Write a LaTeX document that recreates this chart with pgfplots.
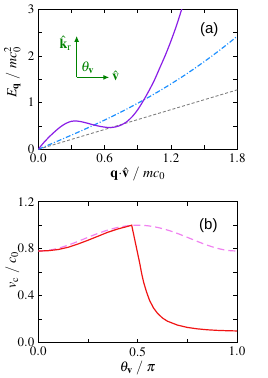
\documentclass[border=0pt]{standalone}
\usepackage{mathptmx}
\usepackage{fontspec}
\setmainfont{Liberation Serif}
\newfontfamily\arial{Liberation Sans}
\usepackage{pgfplots}
\pgfplotsset{compat=1.18}
\usetikzlibrary{arrows.meta}
\definecolor{cpurple}{RGB}{138,30,230}
\definecolor{cblue}{RGB}{30,144,255}
\definecolor{cgray}{RGB}{128,128,128}
\definecolor{cred}{RGB}{240,20,20}
\definecolor{cpink}{RGB}{240,130,240}
\definecolor{cgreen}{RGB}{0,130,0}
\begin{document}
\begin{tikzpicture}[x=1pt,y=1pt]
\useasboundingbox (0,0) rectangle (268,378);
\pgfplotsset{
  every axis/.append style={
    scale only axis,
    axis line style={line width=0.8pt},
    tick style={line width=0.6pt,black},
    major tick length=4pt, minor tick length=4pt,
    tick align=inside,
    xtick pos=both, ytick pos=both,
    minor tick num=1,
    tick label style={font=\fontsize{13}{14}\selectfont},
    label style={font=\fontsize{14}{15}\selectfont},
    xticklabel style={yshift=-1pt},
    yticklabel style={xshift=-0.5pt},
  }
}
\begin{axis}[
  at={(38.3pt,228.7pt)}, anchor=south west,
  width=199pt, height=140.1pt,
  xmin=0, xmax=1.8, ymin=0, ymax=3,
  xtick={0,0.6,1.2,1.8}, ytick={0,1,2,3},
  xticklabel style={/pgf/number format/.cd,fixed,fixed zerofill,precision=1},
  yticklabel style={/pgf/number format/.cd,fixed,precision=0},
  xlabel={$\mathbf{q}{\cdot}\hat{\mathbf{v}}\ /\ mc_0$},
  ylabel={$E_{\mathbf{q}}\ /\ mc_0^2$},
  xlabel style={at={(axis description cs:0.5,-0.175)},anchor=center},
  ylabel style={at={(axis description cs:-0.13,0.55)},anchor=center},
  clip=true,
]
\addplot[cgray, line width=0.9pt, dash pattern=on 3pt off 2pt] coordinates {(0,0) (1.8,1.273)};
\addplot[cblue, line width=1.2pt, dash pattern=on 5pt off 2pt on 1pt off 2pt] coordinates {
(0,0) (0.1,0.1001) (0.2,0.2010) (0.3,0.3034) (0.4,0.4079) (0.5,0.5154) (0.6,0.6264)
(0.7,0.7416) (0.8,0.8616) (0.9,0.9870) (1.0,1.1180) (1.1,1.2554) (1.2,1.3994)
(1.3,1.5505) (1.4,1.7089) (1.5,1.8750) (1.6,2.0490) (1.7,2.2311) (1.8,2.4216)};
\addplot[cpurple, line width=1.2pt, smooth] coordinates {
(0,0) (0.025,0.075) (0.05,0.145) (0.1,0.27) (0.15,0.38) (0.2,0.48) (0.25,0.555) (0.3,0.60)
(0.35,0.605) (0.4,0.585) (0.45,0.555) (0.5,0.522) (0.55,0.495) (0.6,0.475) (0.65,0.465)
(0.7,0.48) (0.75,0.52) (0.8,0.59) (0.85,0.70) (0.9,0.85) (0.95,1.04) (1.0,1.25)
(1.05,1.48) (1.1,1.75) (1.15,2.02) (1.2,2.32) (1.25,2.65) (1.3,3.02) (1.32,3.17)};
\draw[cgreen, line width=1.2pt, -{Latex[length=6pt,width=5pt]}] (axis cs:0.347,1.54) -- (axis cs:0.347,2.43);
\draw[cgreen, line width=1.2pt, -{Latex[length=6pt,width=5pt]}] (axis cs:0.347,1.54) -- (axis cs:0.642,1.54);
\node[cgreen, font=\fontsize{14}{15}\selectfont] at (axis cs:0.245,2.27) {$\hat{\mathbf{k}}_{\mathrm{r}}$};
\node[cgreen, font=\fontsize{14}{15}\selectfont] at (axis cs:0.445,1.75) {$\theta_{\mathbf{v}}$};
\node[cgreen, font=\fontsize{14}{15}\selectfont] at (axis cs:0.70,1.57) {$\hat{\mathbf{v}}$};
\node[font=\fontsize{15}{17}\arial] at (axis cs:1.546,2.57) {(a)};
\end{axis}
\begin{axis}[
  at={(38.3pt,35.3pt)}, anchor=south west,
  width=198.7pt, height=141pt,
  xmin=0, xmax=1, ymin=0, ymax=1.2,
  xtick={0,0.5,1}, ytick={0,0.4,0.8,1.2},
  xticklabel style={/pgf/number format/.cd,fixed,fixed zerofill,precision=1},
  yticklabel style={/pgf/number format/.cd,fixed,fixed zerofill,precision=1},
  xlabel={$\theta_{\mathbf{v}}\ /\ \pi$},
  ylabel={$v_{\mathrm{c}}\ /\ c_0$},
  xlabel style={at={(axis description cs:0.5,-0.18)},anchor=center},
  ylabel style={at={(axis description cs:-0.13,0.516)},anchor=center},
]
\addplot[cpink, line width=1.2pt, dash pattern=on 7pt off 4pt, smooth] coordinates {
(0,0.78) (0.05,0.786) (0.1,0.8036) (0.15,0.8301) (0.2,0.8624) (0.25,0.8968) (0.3,0.9299)
(0.35,0.9588) (0.4,0.9811) (0.45,0.9952) (0.5,1.0) (0.55,0.9952) (0.6,0.9811) (0.65,0.9588)
(0.7,0.9299) (0.75,0.8968) (0.8,0.8624) (0.85,0.8301) (0.9,0.8036) (0.95,0.786) (1.0,0.78)};
\addplot[cred, line width=1.2pt] coordinates {
(0,0.78) (0.05,0.783) (0.1,0.793) (0.15,0.812) (0.2,0.84) (0.25,0.872) (0.3,0.906)
(0.35,0.94) (0.4,0.968) (0.45,0.99) (0.47,1.0)
(0.49,0.84) (0.51,0.68) (0.52,0.59) (0.53,0.515) (0.545,0.43) (0.56,0.36) (0.58,0.295)
(0.6,0.25) (0.625,0.21) (0.65,0.183) (0.7,0.15) (0.75,0.13) (0.8,0.118) (0.85,0.11)
(0.9,0.105) (0.95,0.102) (1.0,0.10)};
\node[font=\fontsize{15}{17}\arial] at (axis cs:0.856,1.0) {(b)};
\end{axis}
\end{tikzpicture}
\end{document}
